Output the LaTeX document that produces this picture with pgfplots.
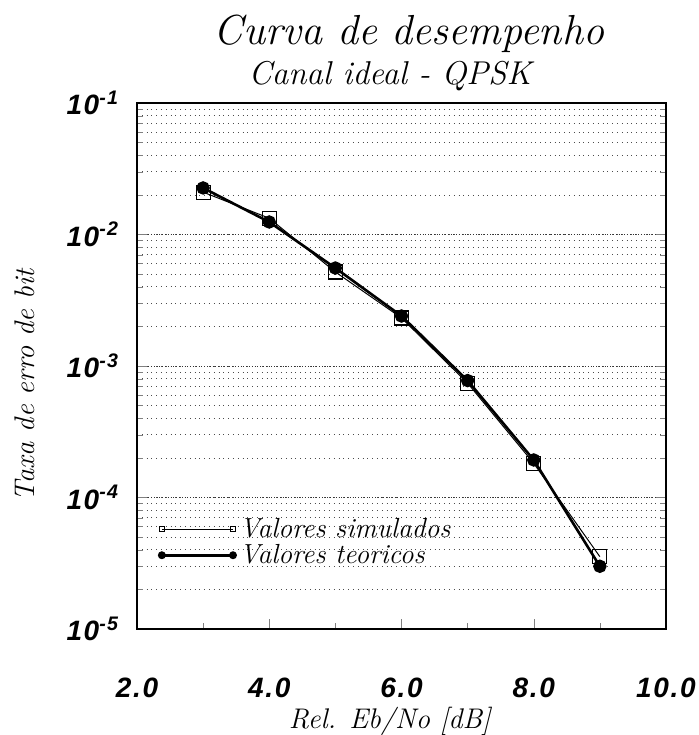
\documentclass[border=0pt]{standalone}
\usepackage{fontspec}
\usepackage{pgfplots}
\pgfplotsset{compat=1.18}
\newfontfamily\tickfont{Liberation Sans}[LetterSpace=6]

% BER measured vs theory, QPSK ideal channel
\pgfplotstableread{
ebno ber
3 0.0210
4 0.0133
5 0.00519
6 0.00232
7 0.000740
8 0.000182
9 0.0000355
}\simulados
\pgfplotstableread{
ebno ber
3 0.0226
4 0.01245
5 0.00556
6 0.00240
7 0.000775
8 0.000193
9 0.0000300
}\teoricos

\begin{document}
\begin{tikzpicture}
\useasboundingbox (-68.5pt,-53pt) rectangle (281pt,314.5pt);
\begin{semilogyaxis}[
  scale only axis,
  width=264.5pt, height=263pt,
  xmin=2, xmax=10,
  ymin=1e-5, ymax=1e-1,
  xtick={2,4,6,8,10},
  xticklabels={2.0,4.0,6.0,8.0,10.0},
  minor x tick num=1,
  ytick={1e-5,1e-4,1e-3,1e-2,1e-1},
  yticklabels={10\textsuperscript{-5},10\textsuperscript{-4},10\textsuperscript{-3},10\textsuperscript{-2},10\textsuperscript{-1}},
  tick label style={font=\fontsize{14}{16}\selectfont\tickfont\bfseries\itshape},
  xticklabel style={anchor=center, yshift=-29.5pt, inner sep=0.5pt},
  yticklabel style={xshift=-5.5pt},
  tick align=inside,
  xtick pos=bottom,
  major tick length=5pt, minor tick length=3pt,
  ymajorgrids, yminorgrids,
  major grid style={densely dotted, line width=0.5pt, black!80},
  minor grid style={dotted, line width=0.4pt, black!70},
  axis line style={line width=0.6pt},
  label style={font=\fontsize{14.2}{16}\selectfont\itshape},
  xlabel={Rel. Eb/No [dB]},
  ylabel={Taxa de erro de bit},
  xlabel style={at={(axis description cs:0.478,-0.176)}, anchor=center, inner sep=0.5pt},
  ylabel style={at={(axis description cs:-0.212,0.464)}, anchor=center},
  legend style={at={(0.03,0.227)}, anchor=north west, draw=none, fill=none,
    font=\fontsize{13.8}{16}\selectfont\itshape, row sep=-2pt,
    legend cell align=left},
  legend image code/.code={
    \draw[#1, mark size=1.3pt] plot coordinates {(0cm,0cm) (1.25cm,0cm)};
  },
]
\addplot[black, line width=0.5pt, mark=square, mark size=3.5pt,
  mark options={solid, fill=white, line width=0.6pt}] table[x=ebno, y=ber] {\simulados};
\addlegendentry{Valores simulados}
\addplot[black, line width=1.3pt, mark=*, mark size=2.7pt] table[x=ebno, y=ber] {\teoricos};
\addlegendentry{Valores teoricos}
\end{semilogyaxis}
\node[font=\fontsize{21}{24}\selectfont\itshape, anchor=base] at (136pt,292pt) {Curva de desempenho};
\node[font=\fontsize{16.5}{18}\selectfont\itshape, anchor=base] at (126.5pt,272pt) {Canal ideal - QPSK};
\end{tikzpicture}
\end{document}
